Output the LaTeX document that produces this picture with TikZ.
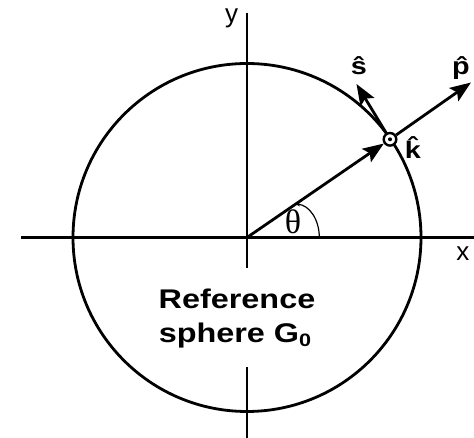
\documentclass[tikz,border=0pt]{standalone}
\usepackage{fontspec}
\setmainfont{Liberation Sans}
\newfontfamily\widefont{Liberation Sans}[FakeStretch=1.2]
\newfontfamily\thetafont{Liberation Serif}
\usetikzlibrary{arrows.meta}
\begin{document}
\begin{tikzpicture}[x=1pt,y=-1pt,
  ln/.style={line width=2.8pt},
  tipstyle/.style={-{Stealth[length=21pt,width=16pt,inset=4pt]}},
  lbl/.style={inner sep=0pt,anchor=base,font=\fontsize{26}{30}\selectfont},
  blbl/.style={inner sep=0pt,anchor=base,font=\widefont\bfseries\fontsize{24}{28}\selectfont},
  reflbl/.style={inner sep=0pt,anchor=base,font=\widefont\bfseries\fontsize{27}{32}\selectfont},
]
\useasboundingbox (0,0) rectangle (474,438);
\coordinate (O) at (247,237.5);
\draw[ln] (O) circle[radius=174pt];
% axes
\coordinate (xL) at (21,237.5);
\coordinate (xR) at (474,237.5);
\coordinate (yT) at (247,12.7);
\coordinate (yB1) at (247,268);
\coordinate (yB2) at (247,367);
\coordinate (yBot) at (247,438);
\draw[ln] (xL) -- (xR);
\draw[ln] (yT) -- (yB1);
\draw[ln] (yB2) -- (yBot);
% point on sphere
\node[circle, draw, line width=2.4pt, minimum size=12.6pt, inner sep=0pt, fill=white] (K) at (390,139.3) {};
\fill (K.center) circle[radius=2pt];
\coordinate (P) at (471,82.5);
\coordinate (S) at (356.5,84);
\draw[ln,tipstyle] (O) -- (K);
\draw[ln,tipstyle] (K) -- (P);
\draw[ln,tipstyle] (K) -- (S);
% angle
\coordinate (a1) at (319.3,237.5);
\coordinate (a2) at (295,204);
\draw[line width=1.2pt,-{Stealth[length=5pt,width=4pt]}] (a1) .. controls (319.3,219) and (309,205) .. (a2);
\node[inner sep=0pt, font=\thetafont\fontsize{34}{34}\selectfont] (th) at (293,222) {θ};
% labels
\node[lbl] (yl) at (231.7,23) {y};
\node[lbl] (xl) at (462.8,261) {x};
\node[blbl] (sl) at (359,75) {s^^^^0302};
\node[blbl] (pl) at (461,75) {p^^^^0302};
\node[blbl] (kl) at (413,159) {k^^^^0302};
\node[reflbl] (r1) at (237,309) {Reference};
\node[reflbl] (r2) at (235,342) {sphere G\raisebox{-5pt}{\fontsize{18}{18}\selectfont 0}};
\end{tikzpicture}
\end{document}
